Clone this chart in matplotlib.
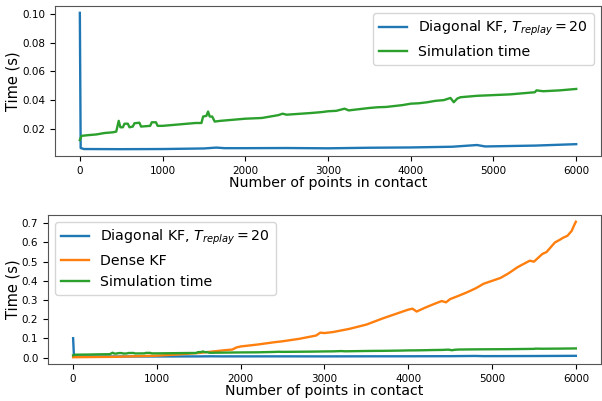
import matplotlib
matplotlib.use("Agg")
import matplotlib.pyplot as plt
from matplotlib.ticker import MultipleLocator

# Temps de calcul par pas
n_diag = [0, 10, 50, 500, 1000, 1500, 1650, 1750, 2000, 2500, 3000, 3500,
          4000, 4500, 4800, 4900, 5500, 6000]
t_diag = [0.101, 0.0065, 0.0058, 0.0057, 0.0058, 0.0062, 0.0068, 0.0064,
          0.0064, 0.0065, 0.0063, 0.0067, 0.0069, 0.0074, 0.0086, 0.0076,
          0.0082, 0.0092]

n_sim = [0, 20, 100, 200, 300, 400, 440, 470, 490, 520, 540, 580, 600, 640,
         660, 720, 740, 850, 870, 920, 940, 1000, 1200, 1400, 1470, 1490,
         1530, 1550, 1570, 1600, 1630, 1700, 1800, 1900, 2000, 2200, 2400,
         2450, 2500, 2600, 2800, 2900, 2950, 3000, 3100, 3200, 3250, 3500,
         3600, 3700, 3900, 4000, 4100, 4200, 4300, 4400, 4480, 4520, 4560,
         4600, 4700, 4800, 5000, 5200, 5300, 5500, 5520, 5600, 5800, 6000]
t_sim = [0.012, 0.015, 0.0155, 0.016, 0.017, 0.0175, 0.018, 0.0255, 0.021,
         0.021, 0.0235, 0.0235, 0.021, 0.0215, 0.0238, 0.0242, 0.0215, 0.022,
         0.0245, 0.0245, 0.022, 0.022, 0.023, 0.024, 0.024, 0.0285, 0.029,
         0.032, 0.0285, 0.0285, 0.025, 0.0255, 0.026, 0.0265, 0.027, 0.0275,
         0.0295, 0.0305, 0.0298, 0.0302, 0.031, 0.0315, 0.0318, 0.0322,
         0.0325, 0.034, 0.0328, 0.0345, 0.035, 0.0352, 0.0365, 0.0375,
         0.0378, 0.0385, 0.0395, 0.040, 0.0415, 0.0385, 0.041, 0.042, 0.0425,
         0.043, 0.0435, 0.044, 0.0445, 0.0455, 0.0468, 0.0462, 0.0468, 0.0478]

n_dense = [0, 500, 1000, 1200, 1500, 1800, 1900, 1950, 2000, 2200, 2400,
           2500, 2700, 2900, 2950, 3000, 3100, 3300, 3500, 3700, 3800, 4000,
           4050, 4100, 4200, 4300, 4400, 4450, 4500, 4600, 4700, 4800, 4900,
           5000, 5100, 5200, 5300, 5350, 5450, 5500, 5600, 5650, 5700, 5750,
           5800, 5850, 5900, 5950, 5980, 6000]
t_dense = [0.002, 0.004, 0.010, 0.015, 0.024, 0.038, 0.042, 0.053, 0.058,
           0.068, 0.080, 0.085, 0.098, 0.115, 0.13, 0.128, 0.133, 0.15,
           0.172, 0.205, 0.22, 0.25, 0.255, 0.24, 0.26, 0.278, 0.295, 0.288,
           0.305, 0.322, 0.340, 0.360, 0.385, 0.400, 0.415, 0.440, 0.470,
           0.482, 0.505, 0.500, 0.540, 0.550, 0.575, 0.600, 0.612, 0.625,
           0.635, 0.660, 0.690, 0.708]

diag_label = r"Diagonal KF, $T_{replay} = 20$"

fig = plt.figure(figsize=(6.02, 4.01), dpi=100)
ax1 = fig.add_axes([0.0914, 0.611, 0.907, 0.374])
ax2 = fig.add_axes([0.0797, 0.0923, 0.9186, 0.3716])

# Graphique du haut
ax1.plot(n_diag, t_diag, color="C0", lw=1.7, label=diag_label)
ax1.plot(n_sim, t_sim, color="C2", lw=1.7, label="Simulation time")
ax1.legend(loc="upper right", fontsize=10.2)

# Graphique du bas
ax2.plot(n_diag, t_diag, color="C0", lw=1.7, label=diag_label)
ax2.plot(n_dense, t_dense, color="C1", lw=1.7, label="Dense KF")
ax2.plot(n_sim, t_sim, color="C2", lw=1.7, label="Simulation time")
ax2.yaxis.set_major_locator(MultipleLocator(0.1))
ax2.legend(loc="upper left", fontsize=10.2)

for ax in (ax1, ax2):
    ax.set_xlabel("Number of points in contact", fontsize=10.2, labelpad=0)
    ax.set_ylabel("Time (s)", fontsize=10.5, labelpad=1)
    ax.tick_params(labelsize=7.5)
    for s in ax.spines.values():
        s.set_color("#555555")

fig.savefig("out.png", dpi=100)
